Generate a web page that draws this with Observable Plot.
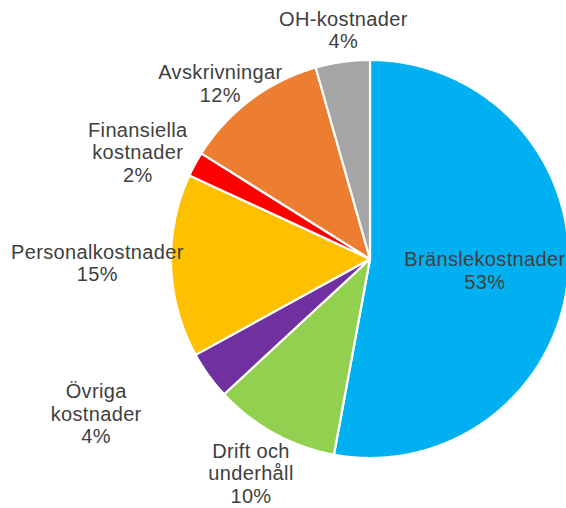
<!DOCTYPE html>
<html>
<head>
<meta charset="utf-8">
<script src="https://cdn.jsdelivr.net/npm/d3@7"></script>
<script src="https://cdn.jsdelivr.net/npm/@observablehq/plot@0.6"></script>
<style>
  html, body { margin: 0; padding: 0; background: #ffffff; }
  #chart svg { display: block; }
</style>
</head>
<body>
<div id="chart"></div>
<script>
// ---- Data ----
const categories = ["Bränslekostnader", "Drift och underhåll", "Övriga kostnader", "Personalkostnader", "Finansiella kostnader", "Avskrivningar", "OH-kostnader"];
const shares = [52.9, 10.2, 3.9, 14.9, 2.0, 11.7, 4.4];
const percentLabels = ["53%", "10%", "4%", "15%", "2%", "12%", "4%"];
const labelLines = ["Bränslekostnader", "Drift och\nunderhåll", "Övriga\nkostnader", "Personalkostnader", "Finansiella\nkostnader", "Avskrivningar", "OH-kostnader"];
const colors = ["#00B0F0", "#92D050", "#7030A0", "#FFC000", "#FF0000", "#ED7D31", "#A5A5A5"];

// ---- Layout (not data) ----
const W = 566, H = 508;
const CX = 369.5, CY = 258.5, R = 199;           // pie centre and radius in pixels
const labelRadius = [0.58, 1.23, 1.58, 1.37, 1.285, 1.16, 1.16]; // in radii
const labelShift = [0.4, 0.3, 6.4, 1.2, -3.7, -3.5, 1.3];        // degrees from mid-angle

// ---- Build slice polygons (unit circle coordinates, clockwise from 12 o'clock) ----
const total = d3.sum(shares);
const rad = deg => deg * Math.PI / 180;
let acc = 0;
const slices = categories.map((name, i) => {
  const a0 = acc / total * 360;
  acc += shares[i];
  const a1 = acc / total * 360;
  return {name, i, a0, a1, mid: (a0 + a1) / 2};
});

const polyPoints = [];
for (const s of slices) {
  polyPoints.push({name: s.name, x: 0, y: 0});
  const n = Math.max(2, Math.ceil((s.a1 - s.a0) / 0.5));
  for (let k = 0; k <= n; k++) {
    const a = rad(s.a0 + (s.a1 - s.a0) * k / n);
    polyPoints.push({name: s.name, x: Math.sin(a), y: Math.cos(a)});
  }
}

const labels = slices.map(s => {
  const a = rad(s.mid + labelShift[s.i]);
  const r = labelRadius[s.i];
  return {name: s.name, x: r * Math.sin(a), y: r * Math.cos(a), text: labelLines[s.i] + "\n" + percentLabels[s.i]};
});

const plot = Plot.plot({
  width: W,
  height: H,
  margin: 0,
  style: {fontFamily: "'Liberation Sans', Arial, sans-serif", letterSpacing: "0.35px", background: "#ffffff"},
  x: {axis: null, domain: [-CX / R, (W - CX) / R]},
  y: {axis: null, domain: [-(H - CY) / R, CY / R]},
  color: {domain: categories, range: colors},
  marks: [
    Plot.line(polyPoints, {x: "x", y: "y", z: "name", fill: "name", stroke: "#ffffff", strokeWidth: 2.2, curve: "linear-closed", strokeLinejoin: "round"}),
    Plot.text(labels, {x: "x", y: "y", text: "text", fontSize: 20, lineHeight: 1.13, lineAnchor: "middle", textAnchor: "middle", fill: "#404040"})
  ]
});
document.getElementById("chart").appendChild(plot);
</script>
</body>
</html>
